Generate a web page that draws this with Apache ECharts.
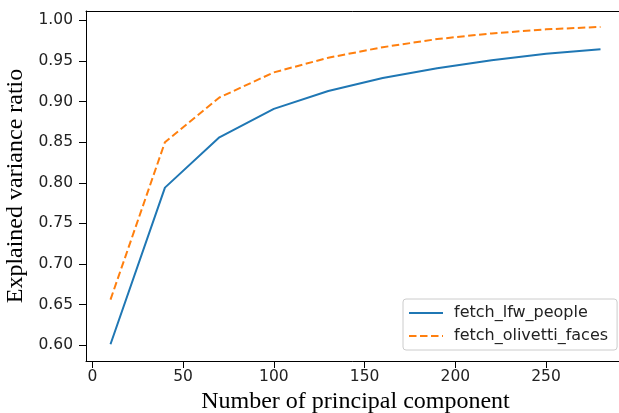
<!DOCTYPE html>
<html><head><meta charset="utf-8">
<script src="https://cdn.jsdelivr.net/npm/echarts@6/dist/echarts.min.js"></script>
<style>html,body{margin:0;padding:0;background:#fff;overflow:hidden}#c{width:619px;height:413px}</style>
</head><body><div id="c"></div>
<script>
const components = [10, 40, 70, 100, 130, 160, 190, 220, 250, 280];
const lfwPeople = [0.601, 0.794, 0.856, 0.891, 0.913, 0.929, 0.941, 0.951, 0.959, 0.9645];
const olivettiFaces = [0.656, 0.850, 0.905, 0.936, 0.954, 0.967, 0.977, 0.984, 0.989, 0.992];
const xTicks = [0, 50, 100, 150, 200, 250];
const yTicks = [0.60, 0.65, 0.70, 0.75, 0.80, 0.85, 0.90, 0.95, 1.00];
const seriesNames = ['fetch_lfw_people', 'fetch_olivetti_faces'];

const chart = echarts.init(document.getElementById('c'), null, {renderer: 'canvas'});
const tickFont = {fontFamily: 'DejaVu Sans', fontSize: 15.5, color: '#222'};
chart.setOption({
  animation: false,
  grid: {left: 86, top: 11, width: 539, height: 350, show: false,
         containLabel: false, outerBoundsMode: 'none'},
  xAxis: [{
    type: 'value', min: -3.5, max: 293.5, position: 'bottom',
    name: 'Number of principal component', nameLocation: 'middle', nameGap: 28,
    nameTextStyle: {fontFamily: 'Liberation Serif', fontSize: 24, color: '#000'},
    axisLine: {show: true, onZero: false, lineStyle: {color: '#000', width: 1}},
    axisTick: {show: true, length: 7, customValues: xTicks, lineStyle: {color: '#000'}},
    axisLabel: Object.assign({margin: 8, customValues: xTicks, formatter: v => String(v)}, tickFont),
    splitLine: {show: false}, splitArea: {show: false}
  }, {
    type: 'value', min: -3.5, max: 293.5, position: 'top',
    axisLine: {show: true, onZero: false, lineStyle: {color: '#000', width: 1}},
    axisTick: {show: false}, axisLabel: {show: false}, splitLine: {show: false}, splitArea: {show: false}
  }],
  yAxis: {
    type: 'value', min: 0.5804, max: 1.0116,
    name: 'Explained variance ratio', nameLocation: 'middle', nameGap: 51,
    nameTextStyle: {fontFamily: 'Liberation Serif', fontSize: 24, color: '#000'},
    axisLine: {show: true, onZero: false, lineStyle: {color: '#000', width: 1}},
    axisTick: {show: true, length: 7, customValues: yTicks, lineStyle: {color: '#000'}},
    axisLabel: Object.assign({margin: 13, customValues: yTicks, formatter: v => v.toFixed(2)}, tickFont),
    splitLine: {show: false}, splitArea: {show: false}
  },
  legend: {
    orient: 'vertical', left: 403, top: 299,
    itemWidth: 34, itemHeight: 12, itemGap: 7,
    padding: [6, 9, 6, 5],
    borderColor: '#ccc', borderWidth: 1, borderRadius: 3,
    itemStyle: {opacity: 0},
    textStyle: {fontFamily: 'DejaVu Sans', fontSize: 16, color: '#222', padding: [0, 0, 0, 6]},
    data: seriesNames
  },
  series: [
    {name: seriesNames[0], type: 'line', symbol: 'none', data: components.map((x, i) => [x, lfwPeople[i]]),
     lineStyle: {color: '#1f77b4', width: 2}, itemStyle: {color: '#1f77b4'}},
    {name: seriesNames[1], type: 'line', symbol: 'none', data: components.map((x, i) => [x, olivettiFaces[i]]),
     lineStyle: {color: '#ff7f0e', width: 2, type: [7.5, 3.5]}, itemStyle: {color: '#ff7f0e'}}
  ]
});
</script></body></html>
